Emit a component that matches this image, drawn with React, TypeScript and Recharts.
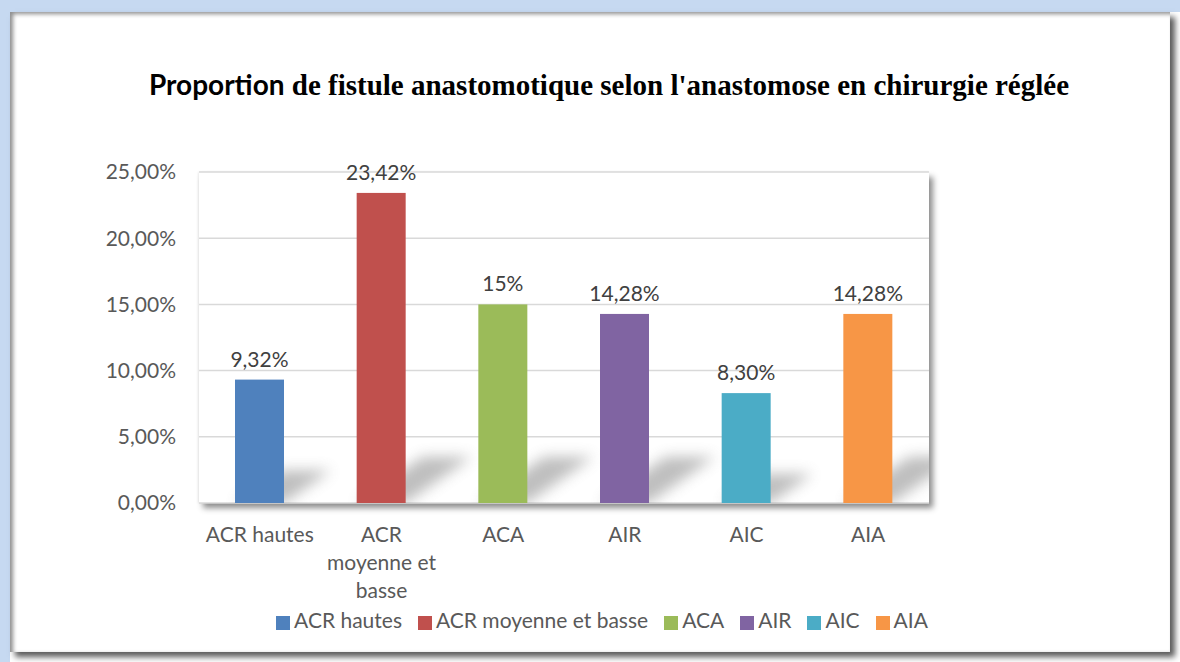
import { BarChart, Bar, XAxis, YAxis, CartesianGrid, Legend, LabelList } from "recharts";

const categories = ["ACR hautes", "ACR moyenne et basse", "ACA", "AIR", "AIC", "AIA"];
// axis labels wrap like the original
const tickLines = [["ACR hautes"], ["ACR", "moyenne et", "basse"], ["ACA"], ["AIR"], ["AIC"], ["AIA"]];
const proportions = [9.32, 23.42, 15, 14.28, 8.3, 14.28];
const valueLabels = ["9,32%", "23,42%", "15%", "14,28%", "8,30%", "14,28%"];
const barColors = ["#4f81bd", "#c0504d", "#9bbb59", "#8064a2", "#4bacc6", "#f79646"];
const yTicks = [0, 5, 10, 15, 20, 25];

const W = 1180;
const H = 662;
const PLOT = { left: 199, top: 172, right: 929, bottom: 503 };
const FONT = "Lato, 'Open Sans', sans-serif";
const LEGEND_H = 26;
const LEGEND_BOTTOM = 29;

const data = categories.map((name, i) => {
  const row: Record<string, string | number> = { name };
  row[`s${i}`] = proportions[i];
  return row;
});

function fmtPct(v: number) {
  return v.toFixed(2).replace(".", ",") + "%";
}

// bar + its diagonal floor shadow
function ShadowBar(props: any) {
  const { x, y, width, height, fill } = props;
  if (!height || height <= 0) return null;
  const base = y + height;
  const dx = Math.min(height * 0.38, 66);
  const dy = dx * 0.7;
  const pts = `${x},${base} ${x + width},${base} ${x + width + dx},${base - dy} ${x + dx},${base - dy}`;
  return (
    <g>
      <polygon points={pts} fill="#6f6f6f" opacity={0.45} filter="url(#floorBlur)" clipPath="url(#plotClip)" />
      <rect x={x} y={y} width={width} height={height} fill={fill} />
    </g>
  );
}

function CategoryTick(props: any) {
  const { x, y, payload } = props;
  const lines = tickLines[payload.index] ?? [payload.value];
  return (
    <text x={x} y={y} textAnchor="middle" fill="#595959" fontSize={21} fontFamily={FONT}>
      {lines.map((l: string, k: number) => (
        <tspan key={k} x={x} dy={k === 0 ? 31 : 28}>
          {l}
        </tspan>
      ))}
    </text>
  );
}

export default function App() {
  return (
    <div style={{ position: "fixed", left: 0, top: 0, width: W, height: H, background: "#fff", overflow: "hidden" }}>
      <svg width={0} height={0} style={{ position: "absolute" }}>
        <defs>
          <filter id="floorBlur" x="-50%" y="-50%" width="200%" height="200%">
            <feGaussianBlur stdDeviation="7" />
          </filter>
          <clipPath id="plotClip" clipPathUnits="userSpaceOnUse">
            <rect x={PLOT.left} y={PLOT.top} width={PLOT.right - PLOT.left} height={PLOT.bottom - PLOT.top} />
          </clipPath>
        </defs>
      </svg>

      {/* frame */}
      <div style={{ position: "absolute", left: 0, top: 0, width: W, height: 12, background: "#c6d9f1" }} />
      <div style={{ position: "absolute", left: 0, top: 0, width: 10, height: H, background: "#c6d9f1" }} />
      <div
        style={{
          position: "absolute",
          left: 10,
          top: 12,
          width: 1160,
          height: 640,
          background: "#fff",
          boxShadow: "inset 3px 2px 4px rgba(0,0,0,0.45), 5px 5px 6px rgba(0,0,0,0.65)",
        }}
      />
      {/* plot area shadow */}
      <div
        style={{
          position: "absolute",
          left: PLOT.left,
          top: PLOT.top,
          width: PLOT.right - PLOT.left,
          height: PLOT.bottom - PLOT.top,
          background: "#fff",
          boxShadow: "4px 5px 6px rgba(0,0,0,0.45), -1px 0 2px rgba(0,0,0,0.08)",
        }}
      />

      <div style={{ position: "absolute", left: 0, top: 0 }}>
        <BarChart
          width={W}
          height={H}
          data={data}
          barSize={49}
          margin={{ top: PLOT.top, right: W - PLOT.right, bottom: LEGEND_BOTTOM, left: 0 }}
        >
          <CartesianGrid vertical={false} stroke="#d9d9d9" strokeWidth={1.5} />
          <XAxis
            dataKey="name"
            axisLine={false}
            tickLine={false}
            interval={0}
            height={H - LEGEND_BOTTOM - LEGEND_H - PLOT.bottom}
            tick={<CategoryTick />}
          />
          <YAxis
            width={PLOT.left}
            domain={[0, 25]}
            ticks={yTicks}
            axisLine={false}
            tickLine={false}
            tickMargin={17}
            tickFormatter={fmtPct}
            tick={{ fill: "#595959", fontSize: 21, fontFamily: FONT }}
          />
          <Legend
            iconType="square"
            iconSize={14}
            itemSorter={null}
            wrapperStyle={{
              left: 30,
              width: 1160,
              height: LEGEND_H,
              lineHeight: `${LEGEND_H}px`,
              fontFamily: FONT,
              fontSize: 21,
            }}
            formatter={(v: string) => <span style={{ color: "#595959", marginRight: 6 }}>{v}</span>}
          />
          {categories.map((c, i) => (
            <Bar
              key={c}
              dataKey={`s${i}`}
              name={c}
              stackId="a"
              fill={barColors[i]}
              shape={<ShadowBar />}
              isAnimationActive={false}
            >
              <LabelList
                dataKey={`s${i}`}
                position="top"
                offset={13}
                formatter={(v: any) => (v == null ? "" : valueLabels[i])}
                style={{ fill: "#404040", fontSize: 21, fontFamily: FONT }}
              />
            </Bar>
          ))}
        </BarChart>
      </div>

      <svg width={W} height={120} style={{ position: "absolute", left: 0, top: 0, pointerEvents: "none" }}>
        <text x={609} y={95} textAnchor="middle" fill="#000" fontWeight={700}>
          <tspan fontFamily={FONT} fontSize={28}>
            Proportion
          </tspan>
          <tspan fontFamily="'Liberation Serif', 'Times New Roman', serif" fontSize={29}>
            {" de fistule anastomotique selon l'anastomose en chirurgie réglée"}
          </tspan>
        </text>
      </svg>
    </div>
  );
}
